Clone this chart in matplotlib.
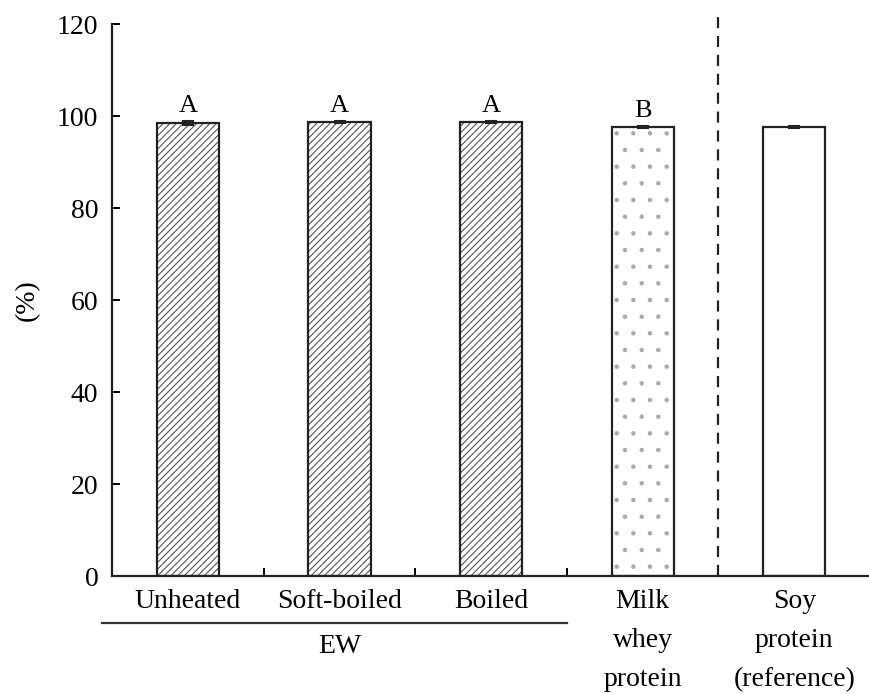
import numpy as np
import matplotlib as mpl
import matplotlib.pyplot as plt

mpl.rcParams.update({"font.family": "serif",
                     "font.serif": ["Liberation Serif", "DejaVu Serif"],
                     "hatch.linewidth": 0.8})

categories = ["Unheated", "Soft-boiled", "Boiled", "Milk\nwhey\nprotein", "Soy\nprotein\n(reference)"]
values = [98.5, 98.8, 98.8, 97.6, 97.6]
errors = [0.5, 0.2, 0.2, 0.2, 0.2]
letters = ["A", "A", "A", "B", ""]
hatches = ["/////", "/////", "/////", ".", ""]
hatch_colors = ["#555555", "#555555", "#555555", "#aaaaaa", "#555555"]
group_label = "EW"


def main():
    fig = plt.figure(figsize=(8.7, 6.94), dpi=100)
    ax = fig.add_axes([0.129, 0.170, 0.871, 0.795])

    x = np.arange(len(categories))
    for i in x:
        # hatch fill drawn separately so its colour can differ from the outline
        ax.bar(i, values[i], width=0.41, color="white", edgecolor=hatch_colors[i],
               linewidth=0, hatch=hatches[i], zorder=2)
        ax.bar(i, values[i], width=0.41, fill=False, edgecolor="#222222",
               linewidth=1.6, zorder=2)
        ax.errorbar(i, values[i], yerr=errors[i], color="#222222", capsize=4,
                    elinewidth=1.2, capthick=1.5, zorder=3)
        if letters[i]:
            ax.text(i, values[i] + errors[i] + 0.9, letters[i], ha="center",
                    va="bottom", fontsize=19)

    ax.set_ylim(0, 120)
    ax.set_xlim(-0.5, 4.5)
    ax.set_yticks(range(0, 121, 20))
    ax.set_ylabel("(%)", fontsize=20)
    ax.yaxis.set_label_coords(-0.095, 0.5)
    ax.tick_params(axis="y", direction="in", length=6, width=1.4, labelsize=20, pad=10)

    ax.set_xticks(x)
    ax.set_xticklabels(categories, fontsize=20, linespacing=1.75, va="top")
    ax.tick_params(axis="x", which="major", length=0, pad=9)
    ax.set_xticks([0.5, 1.5, 2.5], minor=True)
    ax.tick_params(axis="x", which="minor", direction="in", length=6, width=1.4)

    for side in ["top", "right"]:
        ax.spines[side].set_visible(False)
    for side in ["left", "bottom"]:
        ax.spines[side].set_linewidth(1.6)
        ax.spines[side].set_color("#222222")

    # dashed separator for reference
    ax.plot([3.5, 3.5], [0, 122], ls=(0, (5, 3.5)), color="#222222", lw=1.6,
            clip_on=False, zorder=1)

    # EW group line and label
    trans = ax.get_xaxis_transform()
    ax.plot([-0.57, 2.5], [-0.085, -0.085], color="#333333", lw=1.6,
            transform=trans, clip_on=False)
    ax.text(1.0, -0.127, group_label, transform=trans, ha="center", va="center",
            fontsize=20)

    plt.savefig("out.png")


if __name__ == '__main__':
    main()
